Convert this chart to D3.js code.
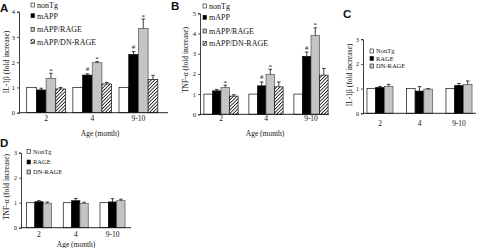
<!DOCTYPE html>
<html>
<head>
<meta charset="utf-8">
<script src="https://cdn.jsdelivr.net/npm/d3@7"></script>
<style>
  body { margin: 0; background: #fff; }
  svg { display: block; }
  text { font-family: "Liberation Serif", "Times New Roman", serif; fill: #111; }
</style>
</head>
<body>
<div id="chart"></div>
<script>
// data
var ages = ["2", "4", "9-10"];
var groupsAB = ["nonTg", "mAPP", "mAPP/RAGE", "mAPP/DN-RAGE"];
var groupsCD = ["NonTg", "RAGE", "DN-RAGE"];

// one row per group, one value per age
var ilMeanA = [[1, 1, 1], [0.9, 1.49, 2.31], [1.36, 1.98, 3.34], [0.94, 1.14, 1.32]];
var ilErrA  = [[0, 0, 0], [0.07, 0.05, 0.11], [0.2, 0.04, 0.37], [0.06, 0.06, 0.16]];
var tnfMeanB = [[1, 1, 1], [1.16, 1.41, 2.87], [1.33, 1.98, 3.9], [0.9, 1.36, 1.94]];
var tnfErrB  = [[0, 0, 0], [0.07, 0.19, 0.21], [0.11, 0.25, 0.38], [0.07, 0.24, 0.33]];
var marksAB = [["", "", ""], ["", "#", "#"], ["*", "*", "*"], ["", "", ""]];
var ilMeanC = [[1, 1, 1.01], [1.05, 0.9, 1.13], [1.08, 0.98, 1.17]];
var ilErrC  = [[0, 0, 0], [0.04, 0.18, 0.08], [0.09, 0.02, 0.14]];
var tnfMeanD = [[1, 1, 1], [1.04, 1.08, 1.03], [0.98, 0.97, 1.08]];
var tnfErrD  = [[0, 0, 0], [0.04, 0.09, 0.13], [0.05, 0.05, 0.06]];

var width = 479, height = 248;
var svg = d3.select('#chart').append('svg')
            .attr('width', width)
            .attr('height', height);

var defs = svg.append('defs');
defs.append('pattern')
    .attr('id', 'hatch')
    .attr('width', 2.4).attr('height', 2.4)
    .attr('patternUnits', 'userSpaceOnUse')
    .attr('patternTransform', 'rotate(45)')
    .call(function(p) {
      p.append('rect').attr('width', 2.4).attr('height', 2.4).attr('fill', '#fff');
      p.append('line').attr('x1', 0).attr('y1', 0).attr('x2', 0).attr('y2', 2.4)
       .attr('stroke', '#111').attr('stroke-width', 1.6);
    });

var fillsAB = ['#fff', '#000', '#c4c4c4', 'url(#hatch)'];
var fillsCD = ['#fff', '#000', '#c4c4c4'];

var panels = [
  { letter: 'A', lx: 0, ly: 12, axisX: [19, 168], band: [23, 161.5], pad: 0.16,
    y0: 112.7, yTop: 11.7, yMax: 4, ylab: 'IL-1β (fold increase)', ylx: 6, yly: 62,
    tickFs: 6.5, xlabY: 121, ageX: 100, ageY: 136,
    groups: groupsAB, mean: ilMeanA, err: ilErrA, marks: marksAB, fills: fillsAB,
    legX: 31, legY: [5, 15.7, 29.3, 41.7], legFs: 8 },
  { letter: 'B', lx: 171, ly: 10, axisX: [200, 329], band: [198.5, 333.5], pad: 0.24,
    y0: 114.3, yTop: 13.3, yMax: 5, ylab: 'TNF-α (fold increase)', ylx: 185, yly: 60,
    tickFs: 6.5, xlabY: 121, ageX: 265, ageY: 136,
    groups: groupsAB, mean: tnfMeanB, err: tnfErrB, marks: marksAB, fills: fillsAB,
    legX: 203, legY: [6, 17.3, 31, 43.3], legFs: 8 },
  { letter: 'C', lx: 343, ly: 18, axisX: [363, 476], band: [360.25, 478.75], pad: 0.34,
    y0: 113.3, yTop: 39.2, yMax: 3, ylab: 'IL-1β (fold increase)', ylx: 349, yly: 75,
    tickFs: 6, xlabY: 126, ageX: null,
    groups: groupsCD, mean: ilMeanC, err: ilErrC, marks: null, fills: fillsCD,
    legX: 370, legY: [51, 58.5, 66], legFs: 6.5 },
  { letter: 'D', lx: 0, ly: 147, axisX: [21, 131], band: [20.6, 130.9], pad: 0.32,
    y0: 227.7, yTop: 152.7, yMax: 3, ylab: 'TNF-α (fold increase)', ylx: 6, yly: 187,
    tickFs: 6, xlabY: 237, ageX: 76, ageY: 246.5,
    groups: groupsCD, mean: tnfMeanD, err: tnfErrD, marks: null, fills: fillsCD,
    legX: 27, legY: [151.5, 162, 172], legFs: 6.5 }
];

panels.forEach(function(p) {
  var g = svg.append('g');

  var x0 = d3.scaleBand().domain(ages).range(p.band)
             .paddingInner(p.pad).paddingOuter(p.pad / 2);
  var x1 = d3.scaleBand().domain(d3.range(p.groups.length)).range([0, x0.bandwidth()]);
  var y = d3.scaleLinear().domain([0, p.yMax]).range([p.y0, p.yTop]);

  // bars
  p.groups.forEach(function(name, si) {
    var rows = ages.map(function(a, ai) {
      return { age: a, v: p.mean[si][ai], e: p.err[si][ai], m: p.marks ? p.marks[si][ai] : '' };
    });
    var bx = function(d) { return x0(d.age) + x1(si); };
    g.selectAll('rect.s' + si).data(rows).enter().append('rect')
     .attr('x', bx)
     .attr('y', function(d) { return y(d.v); })
     .attr('width', x1.bandwidth())
     .attr('height', function(d) { return y(0) - y(d.v); })
     .attr('fill', p.fills[si])
     .attr('stroke', si == 2 ? '#555' : '#111')
     .attr('stroke-width', 0.7);

    var withErr = rows.filter(function(d) { return d.e > 0; });
    var cx = function(d) { return bx(d) + x1.bandwidth() / 2; };
    g.selectAll('line.e' + si).data(withErr).enter().append('line')
     .attr('x1', cx).attr('x2', cx)
     .attr('y1', function(d) { return y(d.v); })
     .attr('y2', function(d) { return y(d.v + d.e); })
     .attr('stroke', '#111').attr('stroke-width', 0.8);
    g.selectAll('line.c' + si).data(withErr).enter().append('line')
     .attr('x1', function(d) { return cx(d) - 1.8; })
     .attr('x2', function(d) { return cx(d) + 1.8; })
     .attr('y1', function(d) { return y(d.v + d.e); })
     .attr('y2', function(d) { return y(d.v + d.e); })
     .attr('stroke', '#111').attr('stroke-width', 0.8);

    g.selectAll('text.m' + si).data(rows.filter(function(d) { return d.m; })).enter().append('text')
     .attr('x', cx)
     .attr('y', function(d) { return y(d.v + d.e) - (d.m == '#' ? 2.5 : 0.5); })
     .attr('text-anchor', 'middle')
     .style('font-size', '7px')
     .text(function(d) { return d.m; });
  });

  // y axis
  var yAxis = d3.axisLeft(y).tickValues(d3.range(0, p.yMax + 1)).tickSize(2).tickPadding(2)
                .tickFormat(d3.format('d'));
  var ya = g.append('g').attr('transform', 'translate(' + p.axisX[0] + ',0)').call(yAxis);
  ya.select('.domain').attr('stroke', '#111').attr('stroke-width', 0.8);
  ya.selectAll('line').attr('stroke', '#111').attr('stroke-width', 0.7);
  ya.selectAll('text').style('font-family', '"Liberation Serif", serif')
    .style('font-size', p.tickFs + 'px').attr('fill', '#111');

  // x axis
  var xAxis = d3.axisBottom(x0).tickSize(0).tickPadding(0);
  var xa = g.append('g').attr('transform', 'translate(0,' + p.y0 + ')').call(xAxis);
  xa.select('.domain').remove();
  xa.selectAll('text').attr('dy', null).attr('y', p.xlabY - p.y0)
    .style('font-family', '"Liberation Serif", serif')
    .style('font-size', '7.5px').attr('fill', '#111');
  g.append('line')
   .attr('x1', p.axisX[0]).attr('x2', p.axisX[1])
   .attr('y1', p.y0).attr('y2', p.y0)
   .attr('stroke', '#111').attr('stroke-width', 0.9);

  if (p.ageX) {
    g.append('text').attr('x', p.ageX).attr('y', p.ageY)
     .attr('text-anchor', 'middle').style('font-size', '7.5px').text('Age (month)');
  }

  g.append('text')
   .attr('transform', 'translate(' + p.ylx + ',' + p.yly + ') rotate(-90)')
   .attr('text-anchor', 'middle').attr('dy', '0.35em')
   .style('font-size', '7.5px').text(p.ylab);

  // legend
  p.groups.forEach(function(name, si) {
    var ly = p.legY[si];
    g.append('rect').attr('x', p.legX).attr('y', ly - 2)
     .attr('width', 3.5).attr('height', 4)
     .attr('fill', p.fills[si]).attr('stroke', '#111').attr('stroke-width', 0.6);
    g.append('text').attr('x', p.legX + 6).attr('y', ly).attr('dy', '0.35em')
     .style('font-size', p.legFs + 'px').text(name);
  });

  g.append('text').attr('x', p.lx).attr('y', p.ly)
   .style('font-family', '"Liberation Sans", Arial, sans-serif')
   .style('font-weight', 'bold').style('font-size', '11.5px')
   .text(p.letter);
});
</script>
</body>
</html>
